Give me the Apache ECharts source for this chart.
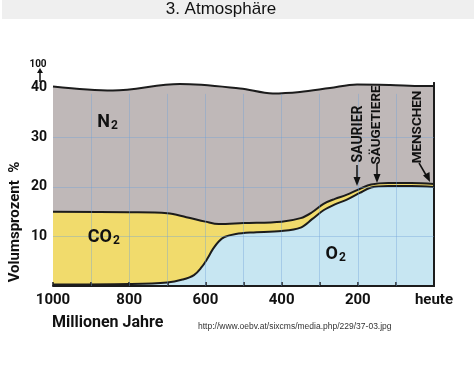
<!DOCTYPE html>
<html>
<head>
<meta charset="utf-8">
<script src="https://cdn.jsdelivr.net/npm/echarts@6/dist/echarts.min.js"></script>
<style>
html,body{margin:0;padding:0;background:#fff;}
#c{width:474px;height:377px;}
</style>
</head>
<body>
<div id="c"></div>
<script>
// ---- data (million years ago -> volume percent) ----
var n2Years = [1000, 843, 667, 509, 423, 352, 273, 202, 115, 29, 0];
var n2Top   = [40.3, 39.5, 40.8, 39.9, 38.9, 39.2, 40.0, 40.7, 40.6, 40.4, 40.4];

var co2Years = [1000, 800, 700, 650, 600, 565, 500, 400, 350, 320, 290, 260, 230, 195, 165, 120, 60, 0];
var co2Top   = [15.0, 14.9, 14.7, 13.9, 13.0, 12.5, 12.7, 13.0, 13.7, 14.9, 16.6, 17.6, 18.4, 19.6, 20.5, 20.8, 20.8, 20.6];

var o2Years = [1000, 800, 700, 660, 630, 610, 595, 580, 565, 550, 520, 480, 400, 350, 320, 290, 260, 230, 195, 165, 120, 60, 0];
var o2Top   = [0.3, 0.4, 0.7, 1.3, 2.2, 3.8, 5.5, 7.5, 9.0, 9.9, 10.5, 10.8, 11.1, 11.8, 13.5, 15.3, 16.5, 17.4, 18.8, 19.9, 20.2, 20.2, 20.0];

var xTickLabels = {0: 'heute', 200: '200', 400: '400', 600: '600', 800: '800', 1000: '1000'};
var yTickLabels = {10: '10', 20: '20', 30: '30', 40: '40'};
var gridYears = [100, 200, 300, 400, 500, 600, 700, 800, 900];
var gridPcts = [10, 20, 30];
var gridTopPct = 38.8;

function pairs(xs, ys) { return xs.map(function (x, i) { return [x, ys[i]]; }); }

var HAND = 'Roboto, "DejaVu Sans", sans-serif';
var gridColor = 'rgba(110,160,215,0.38)';

var chart = echarts.init(document.getElementById('c'), null, {renderer: 'canvas'});

var gridLines = gridPcts.map(function (p) { return {yAxis: p}; });
gridYears.forEach(function (y) { gridLines.push([{coord: [y, 0]}, {coord: [y, gridTopPct]}]); });

function lineSeries(name, xs, ys, fill, extra) {
  var s = {
    name: name, type: 'line', data: pairs(xs, ys), smooth: 0.35,
    showSymbol: false, symbol: 'none', silent: true,
    lineStyle: {color: '#1c1c1c', width: 2},
    areaStyle: {color: fill, opacity: 1}
  };
  if (extra) for (var k in extra) s[k] = extra[k];
  return s;
}

function txt(x, y, text, font, opts) {
  var o = {type: 'text', x: x, y: y, silent: true, z: 100,
    style: {text: text, font: font, fill: '#111', align: 'center', verticalAlign: 'middle'}};
  if (opts) for (var k in opts) o[k] = opts[k];
  return o;
}
function formula(x, y, main, sub) {
  return [
    {type: 'text', x: x, y: y, silent: true, z: 100, style: {text: main, font: 'bold 18px ' + HAND, fill: '#111', align: 'right', verticalAlign: 'middle'}},
    {type: 'text', x: x + 1, y: y + 4, silent: true, z: 100, style: {text: sub, font: 'bold 12px ' + HAND, fill: '#111', align: 'left', verticalAlign: 'middle'}}
  ];
}
function seg(x1, y1, x2, y2) {
  return {type: 'line', silent: true, z: 100, shape: {x1: x1, y1: y1, x2: x2, y2: y2}, style: {stroke: '#111', lineWidth: 1.5}};
}
function tri(pts) {
  return {type: 'polygon', silent: true, z: 100, shape: {points: pts}, style: {fill: '#111'}};
}

var graphics = [
  {type: 'rect', silent: true, z: 100, shape: {x: 2, y: 0, width: 472, height: 19}, style: {fill: '#efefef'}},
  txt(221, 9, '3. Atmosphäre', '17px "Liberation Sans", Arial, sans-serif'),
  txt(38, 64, '100', 'bold 10px ' + HAND),
  seg(40, 82, 40, 71),
  tri([[37, 73], [43, 73], [40, 68]]),
  txt(15, 222, 'Volumsprozent  %', 'bold 15px ' + HAND, {rotation: Math.PI / 2}),
  {type: 'text', x: 52, y: 323, silent: true, z: 100, style: {text: 'Millionen Jahre', font: 'bold 16px ' + HAND, fill: '#111', align: 'left', verticalAlign: 'middle'}},
  {type: 'text', x: 198, y: 327, silent: true, z: 100, style: {text: 'http://www.oebv.at/sixcms/media.php/229/37-03.jpg', font: '8.5px "Liberation Sans", Arial, sans-serif', fill: '#333', align: 'left', verticalAlign: 'middle'}},
  txt(358, 134, 'SAURIER', 'bold 14px ' + HAND, {rotation: Math.PI / 2}),
  seg(357, 165, 357, 179),
  tri([[353.5, 177], [360.5, 177], [357, 186]]),
  txt(377, 125, 'SÄUGETIERE', 'bold 13.5px ' + HAND, {rotation: Math.PI / 2}),
  seg(377, 163, 377, 175),
  tri([[373.5, 174], [380.5, 174], [377, 183]]),
  txt(418, 127, 'MENSCHEN', 'bold 13.5px ' + HAND, {rotation: Math.PI / 2}),
  seg(419, 163, 426, 175),
  tri([[423, 175.5], [429.5, 172], [430, 182]])
].concat(formula(110, 122, 'N', '2'), formula(112, 237, 'CO', '2'), formula(338, 254, 'O', '2'));

chart.setOption({
  animation: false,
  grid: {left: 53, right: 40, top: 83, bottom: 91, containLabel: false},
  xAxis: {
    type: 'value', inverse: true, min: 0, max: 1000, interval: 100,
    axisLine: {lineStyle: {color: '#1c1c1c', width: 2}},
    axisTick: {show: true, inside: true, length: 4, lineStyle: {color: '#1c1c1c', width: 1.5}},
    axisLabel: {
      showMinLabel: true, showMaxLabel: true, margin: 7,
      fontFamily: HAND, fontWeight: 'bold', fontSize: 15, color: '#111',
      formatter: function (v) { return xTickLabels[v] || ''; }
    },
    splitLine: {show: false}, z: 4
  },
  yAxis: [{
    type: 'value', min: 0, max: 41, interval: 10,
    axisLine: {show: true, lineStyle: {color: '#1c1c1c', width: 2}},
    axisTick: {show: false},
    axisLabel: {
      margin: 6, fontFamily: HAND, fontWeight: 'bold', fontSize: 14, color: '#111',
      formatter: function (v) { return yTickLabels[v] || ''; }
    },
    splitLine: {show: false}, z: 4
  }, {
    type: 'value', min: 0, max: 41, position: 'right',
    axisLine: {show: true, lineStyle: {color: '#1c1c1c', width: 2}},
    axisTick: {show: false}, axisLabel: {show: false}, splitLine: {show: false}, z: 4
  }],
  series: [
    lineSeries('N2', n2Years, n2Top, '#bfb8b8'),
    lineSeries('CO2', co2Years, co2Top, '#f1db6c'),
    lineSeries('O2', o2Years, o2Top, '#c7e6f2', {
      markLine: {
        silent: true, symbol: ['none', 'none'], label: {show: false},
        lineStyle: {color: gridColor, width: 1, type: 'solid'},
        data: gridLines
      }
    })
  ],
  graphic: graphics
});
</script>
</body>
</html>
